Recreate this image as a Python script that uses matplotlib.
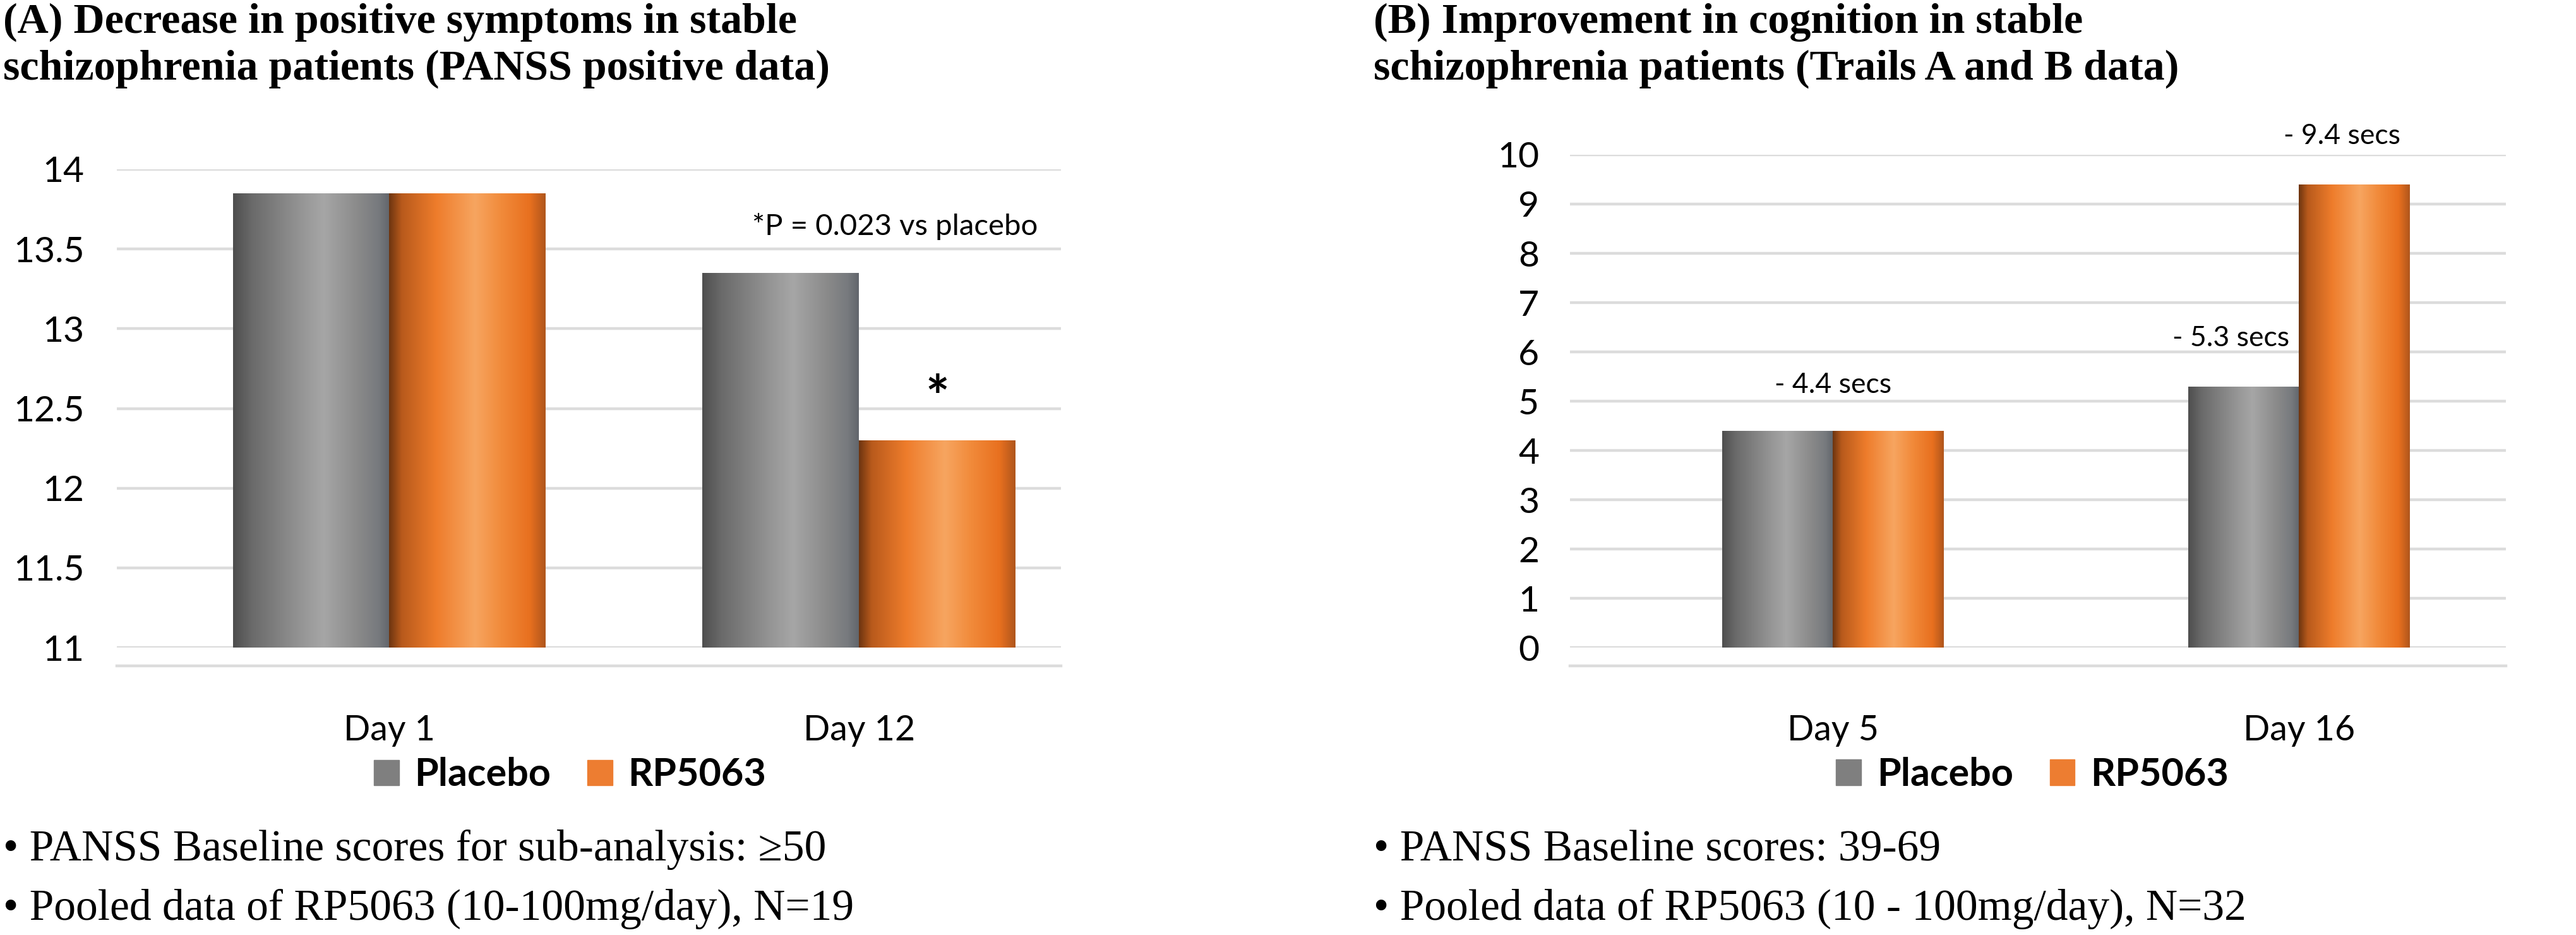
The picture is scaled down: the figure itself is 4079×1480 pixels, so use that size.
"""Two-panel RP5063 trial bar charts (PANSS positive and Trails A/B)."""

import numpy as np
import matplotlib as mpl
mpl.use("Agg")
import matplotlib.pyplot as plt
from matplotlib.colors import LinearSegmentedColormap
from matplotlib.patches import Patch

plt.rcParams["font.family"] = ["Lato", "DejaVu Sans"]
SERIF = ["Liberation Serif", "DejaVu Serif"]

# panel A: PANSS positive scores
days_a = ["Day 1", "Day 12"]
placebo_a = [13.85, 13.35]
rp5063_a = [13.85, 12.3]
yticks_a = [11, 11.5, 12, 12.5, 13, 13.5, 14]

# panel B: Trails A and B improvement (secs)
days_b = ["Day 5", "Day 16"]
placebo_b = [4.4, 5.3]
rp5063_b = [4.4, 9.4]
yticks_b = [0, 1, 2, 3, 4, 5, 6, 7, 8, 9, 10]

series_names = ["Placebo", "RP5063"]
GRAY = "#7f7f7f"
ORANGE = "#ed7d31"

# cylinder-ish shading, left to right across each bar
gray_stops = [(0.0, "#4e4e4e"), (0.12, "#6a6a6a"), (0.45, "#979797"),
              (0.58, "#a6a6a6"), (0.8, "#8a8a8a"), (0.93, "#777a7e"),
              (1.0, "#62666c")]
orange_stops = [(0.0, "#6e3510"), (0.08, "#b85a1c"), (0.3, "#ee7c2b"),
                (0.55, "#f7a560"), (0.72, "#f18a3a"), (0.9, "#e8701f"),
                (1.0, "#b0561c")]


def shade_bars(ax, bars, stops):
    cmap = LinearSegmentedColormap.from_list("shade", stops)
    grad = np.linspace(0, 1, 256).reshape(1, -1)
    for p in bars:
        x0, y0 = p.get_x(), p.get_y()
        im = ax.imshow(grad, cmap=cmap, aspect="auto", interpolation="bilinear",
                       extent=(x0, x0 + p.get_width(), y0, y0 + p.get_height()),
                       zorder=p.get_zorder() + 0.1)
        im.set_clip_path(p)


def draw_panel(ax, days, placebo, rp, width, yticks, base, xlim, ypad):
    x = np.arange(len(days))
    b1 = ax.bar(x - width / 2, np.array(placebo) - base, width, bottom=base,
                color=GRAY, zorder=2)
    b2 = ax.bar(x + width / 2, np.array(rp) - base, width, bottom=base,
                color=ORANGE, zorder=2)
    shade_bars(ax, b1, gray_stops)
    shade_bars(ax, b2, orange_stops)
    ax.set_xlim(*xlim)
    ax.set_ylim(yticks[0], yticks[-1])
    ax.set_yticks(yticks)
    ax.set_yticklabels([f"{v:g}" for v in yticks])
    ax.set_xticks(x)
    ax.set_xticklabels(days)
    ax.grid(axis="y", color="#dcdcdc", lw=3.2)
    ax.set_axisbelow(True)
    for s in ["top", "right", "left"]:
        ax.spines[s].set_visible(False)
    ax.spines["bottom"].set_position(("outward", 21))
    ax.spines["bottom"].set_color("#dcdcdc")
    ax.spines["bottom"].set_linewidth(3.2)
    ax.tick_params(axis="y", length=0, pad=ypad, labelsize=41)
    ax.tick_params(axis="x", length=0, pad=55, labelsize=40)
    handles = [Patch(color=GRAY), Patch(color=ORANGE)]
    return b1, b2, handles


fig = plt.figure(figsize=(40.8, 14.8), dpi=100)
ax_a = fig.add_axes([0.04534, 0.30743, 0.36642, 0.51149])
ax_b = fig.add_axes([0.60931, 0.30743, 0.36324, 0.52703])

pa, ra, handles = draw_panel(ax_a, days_a, placebo_a, rp5063_a, 0.333,
                             yticks_a, 11, (-0.58, 1.43), 37)
pb, rb, _ = draw_panel(ax_b, days_b, placebo_b, rp5063_b, 0.238,
                       yticks_b, 0, (-0.564, 1.444), 35)

# panel A annotations
ax_a.text(1.077, 13.64, "*P = 0.023 vs placebo", fontsize=34,
          ha="center", va="center")
star_bar = ra[1]
ax_a.annotate("*", xy=(star_bar.get_x() + star_bar.get_width() / 2,
                       rp5063_a[1]),
              xytext=(0, 45), textcoords="offset points", ha="center",
              va="center", fontsize=64, fontweight="bold")

# panel B annotations
ax_b.annotate(f"- {placebo_b[0]} secs", xy=(0, max(placebo_b[0], rp5063_b[0])),
              xytext=(0, 52), textcoords="offset points", ha="center",
              va="center", fontsize=32)
for bars, vals in [(pb, placebo_b), (rb, rp5063_b)]:
    p = bars[1]
    ax_b.annotate(f"- {vals[1]} secs",
                  xy=(p.get_x() + p.get_width() / 2, vals[1]),
                  xytext=(-14, 55), textcoords="offset points", ha="center",
                  va="center", fontsize=32)

leg_kw = dict(loc="center", ncol=2, frameon=False,
              prop={"weight": "bold", "size": 44}, handlelength=0.65,
              handleheight=0.65, handletextpad=0.4, columnspacing=0.95,
              borderaxespad=0)
ax_a.legend(handles, series_names, bbox_to_anchor=(0.48, -0.266), **leg_kw)
ax_b.legend(handles, series_names, bbox_to_anchor=(0.494, -0.258), **leg_kw)

# titles and notes
fig.text(0.0012, 0.9649, "(A) Decrease in positive symptoms in stable",
         family=SERIF, fontweight="bold", fontsize=49, va="baseline")
fig.text(0.0012, 0.9155, "schizophrenia patients (PANSS positive data)",
         family=SERIF, fontweight="bold", fontsize=49, va="baseline")
fig.text(0.533, 0.9649, "(B) Improvement in cognition in stable",
         family=SERIF, fontweight="bold", fontsize=49, va="baseline")
fig.text(0.533, 0.9155, "schizophrenia patients (Trails A and B data)",
         family=SERIF, fontweight="bold", fontsize=49, va="baseline")

fig.text(0.0012, 0.0797, "\u2022 PANSS Baseline scores for sub-analysis: \u226550",
         family=SERIF, fontsize=50, va="baseline")
fig.text(0.0012, 0.0162, "\u2022 Pooled data of RP5063 (10-100mg/day), N=19",
         family=SERIF, fontsize=50, va="baseline")
fig.text(0.533, 0.0797, "\u2022 PANSS Baseline scores: 39-69",
         family=SERIF, fontsize=50, va="baseline")
fig.text(0.533, 0.0162, "\u2022 Pooled data of RP5063 (10 - 100mg/day), N=32",
         family=SERIF, fontsize=50, va="baseline")

fig.savefig("out.png", dpi=100)
